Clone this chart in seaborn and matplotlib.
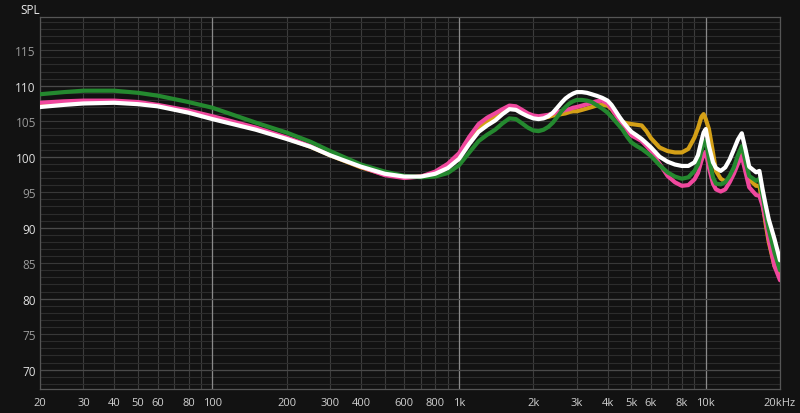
import matplotlib
matplotlib.use('Agg')

import matplotlib.pyplot as plt
import numpy as np
import pandas as pd
import seaborn as sns

# frequency response data (Hz / dB SPL)
freq = [20, 25, 30, 40, 50, 60, 80, 100,
        150, 200, 250, 300, 400, 500, 600, 700, 800, 900,
        1000, 1100, 1200, 1300, 1400, 1500, 1600, 1700, 1800, 1900,
        2000, 2100, 2200, 2300, 2400, 2500, 2600, 2700, 2800, 2900,
        3000, 3150, 3300, 3450, 3600, 3800,
        4000, 4150, 4300, 4450, 4600, 4800,
        5000, 5250, 5500, 5750,
        6000, 6500, 7000, 7500, 8000, 8500,
        9000, 9300, 9600, 9800, 10000,
        10300, 10700, 11000, 11500, 12000, 12500,
        13000, 13500, 14000, 14500, 15000,
        16000, 16500, 17000, 17500, 18000, 19000, 20000]

white = [107.0, 107.3, 107.5, 107.6, 107.4, 107.1, 106.2, 105.3,
         103.8, 102.5, 101.4, 100.2, 98.6, 97.6, 97.2, 97.2, 97.6, 98.4,
         99.7, 101.8, 103.5, 104.4, 105.1, 106.0, 106.7, 106.6, 106.1, 105.7,
         105.4, 105.3, 105.4, 105.7, 106.2, 106.9, 107.6, 108.2, 108.6, 108.9,
         109.1, 109.1, 109.0, 108.8, 108.6, 108.3,
         107.9, 107.3, 106.5, 105.7, 105.0, 104.2,
         103.5, 103.0, 102.5, 101.9,
         101.3, 100.0, 99.3, 98.9, 98.7, 98.7,
         99.2, 100.2, 102.2, 103.4, 103.9,
         101.5, 99.2, 98.4, 98.0, 98.5, 99.6,
         101.0, 102.4, 103.3, 101.0, 98.6,
         97.8, 98.0, 95.4, 93.2, 91.2, 88.4, 85.4]

pink = [107.6, 107.8, 107.9, 107.9, 107.7, 107.3, 106.5, 105.7,
        104.1, 102.7, 101.5, 100.3, 98.6, 97.4, 97.0, 97.2, 97.9, 99.0,
        100.5, 102.8, 104.6, 105.5, 106.1, 106.7, 107.2, 107.1, 106.6, 106.1,
        105.8, 105.7, 105.8, 105.9, 106.1, 106.3, 106.4, 106.6, 106.7, 106.9,
        107.0, 107.2, 107.4, 107.6, 107.8, 107.9,
        107.5, 106.8, 106.0, 105.2, 104.5, 103.7,
        103.0, 102.6, 102.2, 101.5,
        100.8, 99.0, 97.3, 96.4, 95.9, 96.0,
        96.8, 97.7, 99.4, 100.3, 100.7,
        98.5, 96.2, 95.4, 95.1, 95.4, 96.4,
        97.6, 99.0, 100.1, 97.8, 95.7,
        94.6, 94.5, 93.1, 91.0, 88.4, 84.6, 82.6]

green = [108.8, 109.1, 109.3, 109.3, 109.0, 108.6, 107.7, 106.9,
         104.8, 103.4, 102.1, 100.8, 98.9, 97.9, 97.3, 97.1, 97.2, 97.7,
         98.8, 100.6, 102.2, 103.1, 103.8, 104.7, 105.4, 105.3, 104.7, 104.1,
         103.7, 103.6, 103.8, 104.2, 104.8, 105.6, 106.4, 107.0, 107.5, 107.8,
         108.0, 108.0, 107.9, 107.7, 107.3, 106.8,
         106.2, 105.6, 105.0, 104.4, 103.8, 102.8,
         102.0, 101.5, 101.1, 100.6,
         100.1, 98.8, 97.8, 97.2, 96.9, 97.1,
         98.0, 98.9, 100.8, 102.0, 102.3,
         99.7, 97.1, 96.2, 96.1, 96.4, 97.3,
         98.5, 100.2, 101.5, 99.3, 97.3,
         96.6, 96.9, 94.5, 92.1, 89.8, 86.5, 84.0]

gold = [107.3, 107.5, 107.7, 107.7, 107.5, 107.2, 106.3, 105.5,
        103.9, 102.6, 101.4, 100.2, 98.5, 97.5, 97.1, 97.2, 97.7, 98.7,
        100.1, 102.3, 104.0, 104.9, 105.6, 106.3, 106.9, 106.8, 106.3, 105.9,
        105.6, 105.5, 105.5, 105.6, 105.8, 105.9, 106.0, 106.1, 106.3, 106.4,
        106.4, 106.6, 106.8, 107.0, 107.2, 107.3,
        107.2, 106.7, 106.0, 105.4, 104.9, 104.7,
        104.6, 104.5, 104.4, 103.6,
        102.6, 101.3, 100.8, 100.6, 100.6, 101.1,
        102.7, 104.0, 105.6, 106.0, 105.3,
        103.9, 100.6, 98.0, 96.9, 96.5, 96.9,
        97.8, 99.5, 100.8, 98.8, 96.8,
        95.9, 95.9, 93.5, 90.5, 88.0, 84.6, 83.3]

series = [("gold", gold, "#d4a017"), ("pink", pink, "#f0489e"),
          ("green", green, "#24892f"), ("white", white, "#ffffff")]

xticks = [20, 30, 40, 50, 60, 80, 100, 200, 300, 400, 600, 800,
          1000, 2000, 3000, 4000, 5000, 6000, 8000, 10000, 20000]
xlabels = ["20", "30", "40", "50", "60", "80", "100", "200", "300", "400", "600", "800",
           "1k", "2k", "3k", "4k", "5k", "6k", "8k", "10k", "20kHz"]
xminor = [70, 90, 500, 700, 900, 7000, 9000]
yticks = list(range(70, 120, 5))

bg = "#121212"
sns.set_theme(style="dark", rc={"figure.facecolor": bg, "axes.facecolor": bg})
plt.rcParams['font.family'] = ['Open Sans', 'DejaVu Sans']

fig = plt.figure(figsize=(8, 4.14), dpi=100)
ax = fig.add_axes([0.05, 0.058, 0.925, 0.8985])
ax.set_xscale('log')
ax.set_xlim(20, 20000)
ax.set_ylim(67.28, 119.68)

# grid
ax.set_xticks(xticks)
ax.set_xticks(xminor, minor=True)
ax.set_yticks(yticks)
ax.set_yticks(np.arange(68, 120, 1), minor=True)
ax.grid(which='minor', axis='y', color='#2c2c2c', lw=0.8)
ax.grid(which='major', axis='y', color='#383838', lw=0.8)
ax.grid(which='both', axis='x', color='#3c3c3c', lw=0.8)
for v in [100, 1000, 10000]:
    ax.axvline(v, color='#8a8a8a', lw=0.9, zorder=1)
for v in [70, 80, 90, 100, 110]:
    ax.axhline(v, color='#4a4a4a', lw=0.9, zorder=1)
ax.set_axisbelow(True)

for name, vals, col in series:
    df = pd.DataFrame({'freq': freq, 'spl': vals})
    sns.lineplot(data=df, x='freq', y='spl', color=col, lw=3.0, ax=ax,
                 estimator=None, sort=False, zorder=3)

ax.set_xticklabels(xlabels)
ax.set_xlabel("")
ax.set_ylabel("")
ax.tick_params(axis='x', which='both', length=0, pad=6, labelsize=8, labelcolor='#d0d0d0')
ax.tick_params(axis='y', which='both', length=0, pad=3, labelsize=8.5)
ax.set_yticklabels([str(v) for v in yticks])
for t, v in zip(ax.get_yticklabels(), yticks):
    t.set_color('#e0e0e0' if v % 10 == 0 else '#9a9a9a')

for s in ax.spines.values():
    s.set_visible(True)
    s.set_color('#555555')
    s.set_linewidth(0.9)

fig.text(20 / 800, 1 - 11 / 414, "SPL", color='#e8e8e8', fontsize=8.5,
         ha='left', va='center')

fig.savefig("out.png", dpi=100, facecolor=bg)
